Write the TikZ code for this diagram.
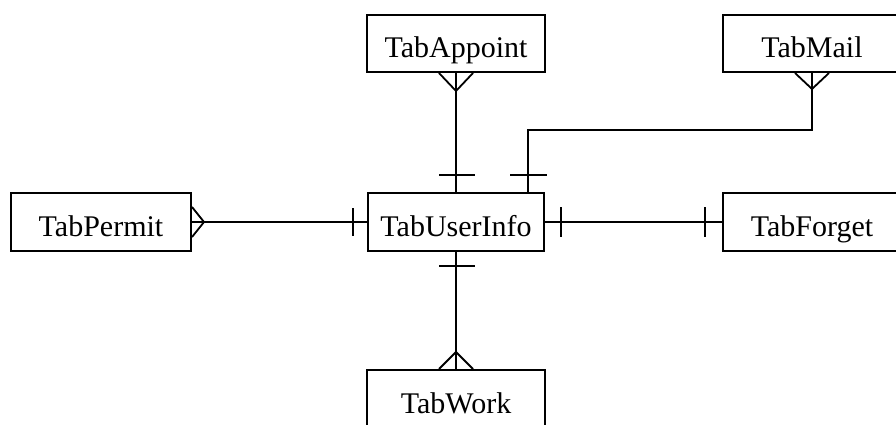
\documentclass[tikz,border=0pt]{standalone}
\usepackage{fontspec}
\setmainfont{Liberation Serif}
\usetikzlibrary{calc}
\begin{document}
\begin{tikzpicture}[x=1pt,y=-1pt,
  table/.style={draw,line width=2pt,rectangle,inner sep=0pt,
    minimum width=178pt,minimum height=58pt,
    text height=28pt,text depth=0pt,
    font=\fontsize{30}{34}\selectfont},
  rel/.style={line width=1.8pt}]
\useasboundingbox (0,0) rectangle (896,425);
\clip (0,0) rectangle (896,425);

% tables
\node[table,minimum height=57pt] (app) at (456,43.5) {TabAppoint};
\node[table,minimum height=57pt] (mail) at (812,43.5) {TabMail};
\node[table,minimum width=180pt] (perm) at (101,222) {TabPermit};
\node[table,minimum width=176pt] (usr) at (456,222) {TabUserInfo};
\node[table] (forg) at (812,222) {TabForget};
\node[table] (work) at (456,399) {TabWork};

% TabAppoint -- TabUserInfo
\draw[rel] (app.south) -- (app.south |- usr.north);
\draw[rel] ($(app.south)+(-17,0)$) -- ++(17,18) -- ++(17,-18);
\draw[rel] ($(usr.north)+(-17,-17)$) -- ++(36,0);

% TabMail -- TabUserInfo
\draw[rel] (mail.south) -- ++(0,57) -| ($(usr.north)+(72,0)$);
\draw[rel] ($(mail.south)+(-17,0)$) -- ++(17,16) -- ++(17,-16);
\draw[rel] ($(usr.north)+(54,-17)$) -- ++(37,0);

% TabPermit -- TabUserInfo
\draw[rel] (perm.east) -- (usr.west);
\draw[rel] ($(perm.east)+(0,-15)$) -- ++(12,15) -- ++(-12,15);
\draw[rel] ($(usr.west)+(-14,-14)$) -- ++(0,28);

% TabUserInfo -- TabForget
\draw[rel] (usr.east) -- (forg.west);
\draw[rel] ($(usr.east)+(16,-15)$) -- ++(0,30);
\draw[rel] ($(forg.west)+(-17,-15)$) -- ++(0,30);

% TabUserInfo -- TabWork
\draw[rel] (usr.south) -- (usr.south |- work.north);
\draw[rel] ($(usr.south)+(-17,14)$) -- ++(36,0);
\draw[rel] ($(work.north)+(-17,0)$) -- ++(17,-17) -- ++(17,17);
\end{tikzpicture}
\end{document}
